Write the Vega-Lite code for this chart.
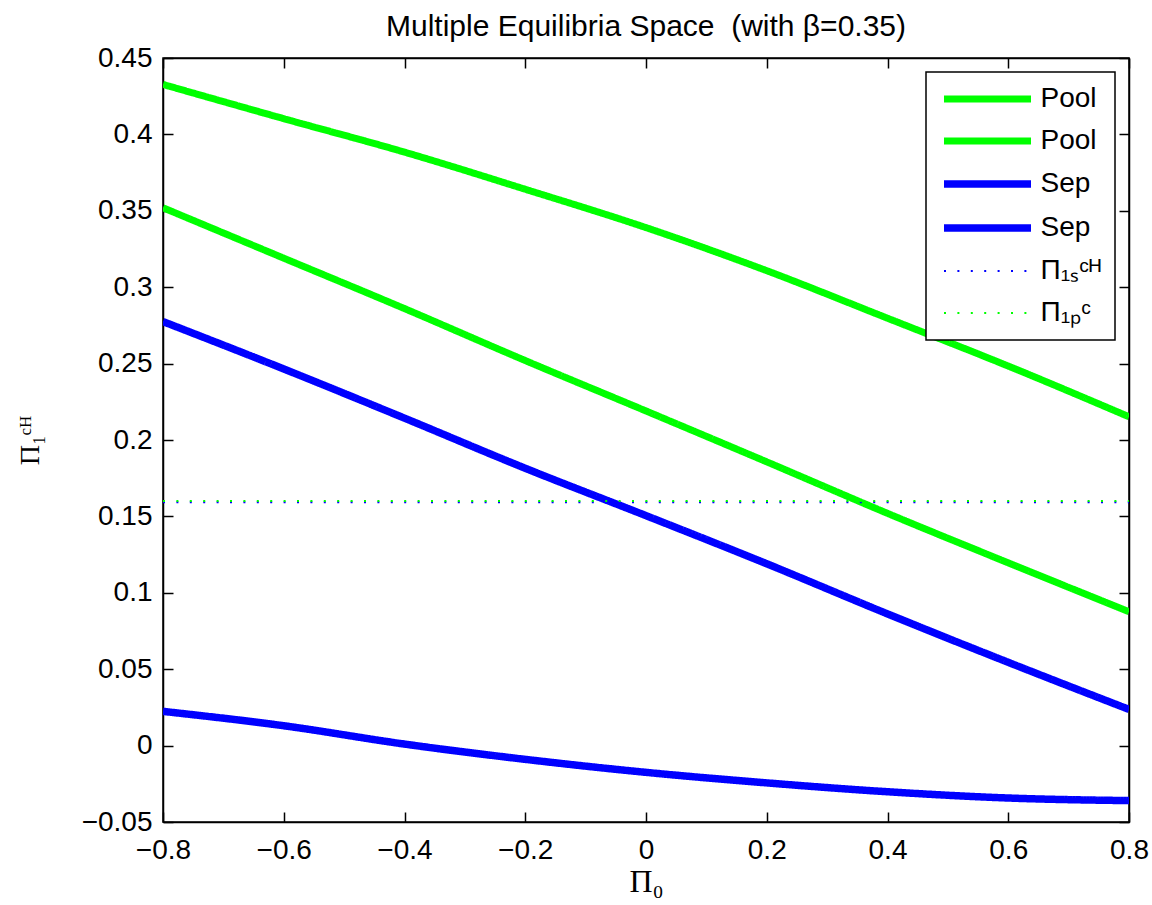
{
  "$schema": "https://vega.github.io/schema/vega-lite/v6.json",
  "autosize": {"type": "none"},
  "padding": {"left": 163, "top": 58, "right": 23, "bottom": 83},
  "width": 966,
  "height": 764,
  "background": "white",
  "title": {
    "text": "Multiple Equilibria Space\u00a0 (with β=0.35)",
    "font": "Liberation Sans",
    "fontSize": 30,
    "fontWeight": "normal",
    "color": "black",
    "anchor": "middle",
    "frame": "group",
    "offset": 2
  },
  "data": {
    "values": [
      {"s": "Pool_a", "x": -0.8, "y": 0.4327},
      {"s": "Pool_a", "x": -0.6, "y": 0.4103},
      {"s": "Pool_a", "x": -0.4, "y": 0.3884},
      {"s": "Pool_a", "x": -0.2, "y": 0.3641},
      {"s": "Pool_a", "x": 0.0, "y": 0.3390},
      {"s": "Pool_a", "x": 0.2, "y": 0.3108},
      {"s": "Pool_a", "x": 0.4, "y": 0.2797},
      {"s": "Pool_a", "x": 0.6, "y": 0.2484},
      {"s": "Pool_a", "x": 0.8, "y": 0.2152},
      {"s": "Pool_b", "x": -0.8, "y": 0.352},
      {"s": "Pool_b", "x": -0.6, "y": 0.319},
      {"s": "Pool_b", "x": -0.4, "y": 0.286},
      {"s": "Pool_b", "x": -0.2, "y": 0.252},
      {"s": "Pool_b", "x": 0.0, "y": 0.219},
      {"s": "Pool_b", "x": 0.2, "y": 0.1857},
      {"s": "Pool_b", "x": 0.4, "y": 0.152},
      {"s": "Pool_b", "x": 0.6, "y": 0.1196},
      {"s": "Pool_b", "x": 0.8, "y": 0.0876},
      {"s": "Sep_a", "x": -0.8, "y": 0.2775},
      {"s": "Sep_a", "x": -0.6, "y": 0.2465},
      {"s": "Sep_a", "x": -0.4, "y": 0.2143},
      {"s": "Sep_a", "x": -0.2, "y": 0.1815},
      {"s": "Sep_a", "x": 0.0, "y": 0.1505},
      {"s": "Sep_a", "x": 0.2, "y": 0.119},
      {"s": "Sep_a", "x": 0.4, "y": 0.0862},
      {"s": "Sep_a", "x": 0.6, "y": 0.0545},
      {"s": "Sep_a", "x": 0.8, "y": 0.0237},
      {"s": "Sep_b", "x": -0.8, "y": 0.0224},
      {"s": "Sep_b", "x": -0.6, "y": 0.0130},
      {"s": "Sep_b", "x": -0.4, "y": 0.0010},
      {"s": "Sep_b", "x": -0.2, "y": -0.0090},
      {"s": "Sep_b", "x": 0.0, "y": -0.0175},
      {"s": "Sep_b", "x": 0.2, "y": -0.0244},
      {"s": "Sep_b", "x": 0.4, "y": -0.0302},
      {"s": "Sep_b", "x": 0.6, "y": -0.0343},
      {"s": "Sep_b", "x": 0.8, "y": -0.0360},
      {"s": "Pi1S", "x": -0.8, "y": 0.1592},
      {"s": "Pi1S", "x": 0.8, "y": 0.1592},
      {"s": "Pi1P", "x": -0.8, "y": 0.1600},
      {"s": "Pi1P", "x": 0.8, "y": 0.1600}
    ]
  },
  "layer": [
    {
      "mark": {"type": "line", "strokeCap": "butt", "interpolate": "monotone", "clip": true},
      "encoding": {
        "x": {
          "field": "x", "type": "quantitative",
          "scale": {"domain": [-0.8, 0.8], "nice": false, "zero": false},
          "axis": {
            "orient": "bottom",
            "values": [-0.8, -0.6, -0.4, -0.2, 0, 0.2, 0.4, 0.6, 0.8],
            "format": ".1~f",
            "title": "Π₀",
            "titleFont": "Liberation Serif",
            "titleFontSize": 32,
            "titlePadding": 2
          }
        },
        "y": {
          "field": "y", "type": "quantitative",
          "scale": {"domain": [-0.05, 0.45], "nice": false, "zero": false},
          "axis": {
            "orient": "left",
            "values": [-0.05, 0, 0.05, 0.1, 0.15, 0.2, 0.25, 0.3, 0.35, 0.4, 0.45],
            "format": ".2~f",
            "title": "Π₁ᶜᴴ",
            "titleFont": "Liberation Serif",
            "titleFontSize": 28,
            "titlePadding": 37
          }
        },
        "color": {
          "field": "s", "type": "nominal",
          "scale": {
            "domain": ["Pool_a", "Pool_b", "Sep_a", "Sep_b", "Pi1S", "Pi1P"],
            "range": ["#00ff00", "#00ff00", "#0000ff", "#0000ff", "#0000ff", "#00ff00"]
          },
          "legend": {
            "labelExpr": "datum.label == 'Pi1S' ? 'Π₁ₛᶜᴴ' : datum.label == 'Pi1P' ? 'Π₁ₚᶜ' : slice(datum.label, 0, indexof(datum.label, '_'))"
          }
        },
        "strokeDash": {
          "field": "s", "type": "nominal",
          "scale": {
            "domain": ["Pool_a", "Pool_b", "Sep_a", "Sep_b", "Pi1S", "Pi1P"],
            "range": [[1, 0], [1, 0], [1, 0], [1, 0], [2, 11.4], [2, 11.4]]
          },
          "legend": {
            "labelExpr": "datum.label == 'Pi1S' ? 'Π₁ₛᶜᴴ' : datum.label == 'Pi1P' ? 'Π₁ₚᶜ' : slice(datum.label, 0, indexof(datum.label, '_'))"
          }
        },
        "strokeWidth": {
          "field": "s", "type": "nominal",
          "scale": {
            "type": "ordinal",
            "domain": ["Pool_a", "Pool_b", "Sep_a", "Sep_b", "Pi1S", "Pi1P"],
            "range": [7, 7, 7.5, 7.5, 2, 2]
          },
          "legend": {
            "labelExpr": "datum.label == 'Pi1S' ? 'Π₁ₛᶜᴴ' : datum.label == 'Pi1P' ? 'Π₁ₚᶜ' : slice(datum.label, 0, indexof(datum.label, '_'))"
          }
        }
      }
    },
    {
      "mark": {"type": "line", "opacity": 0},
      "encoding": {
        "x": {
          "field": "x", "type": "quantitative",
          "axis": {"orient": "top", "values": [-0.8, -0.6, -0.4, -0.2, 0, 0.2, 0.4, 0.6, 0.8], "labels": false, "title": null}
        },
        "y": {
          "field": "y", "type": "quantitative",
          "axis": {"orient": "right", "values": [-0.05, 0, 0.05, 0.1, 0.15, 0.2, 0.25, 0.3, 0.35, 0.4, 0.45], "labels": false, "title": null}
        },
        "detail": {"field": "s", "type": "nominal"}
      }
    }
  ],
  "resolve": {"axis": {"x": "independent", "y": "independent"}},
  "config": {
    "view": {"stroke": "black", "strokeWidth": 1.5},
    "axis": {
      "grid": false,
      "domainColor": "black",
      "domainWidth": 1.5,
      "tickColor": "black",
      "tickWidth": 1.5,
      "tickSize": -10,
      "labelFont": "Liberation Sans",
      "labelFontSize": 28,
      "labelColor": "black",
      "titleColor": "black",
      "titleFontWeight": "normal",
      "labelFlush": false,
      "labelOverlap": false
    },
    "axisX": {"labelPadding": 24},
    "axisY": {"labelPadding": 21},
    "legend": {
      "title": null,
      "orient": "top-right",
      "offset": 14,
      "padding": 13,
      "rowPadding": 14,
      "symbolType": "M-4.35,0H4.35",
      "symbolSize": 400,
      "symbolOffset": 34.5,
      "labelOffset": 39,
      "labelFont": "Liberation Sans",
      "labelFontSize": 28,
      "labelColor": "black",
      "strokeColor": "black",
      "strokeWidth": 1.5,
      "fillColor": "white",
      "cornerRadius": 0,
      "symbolStrokeWidth": 6
    }
  }
}
